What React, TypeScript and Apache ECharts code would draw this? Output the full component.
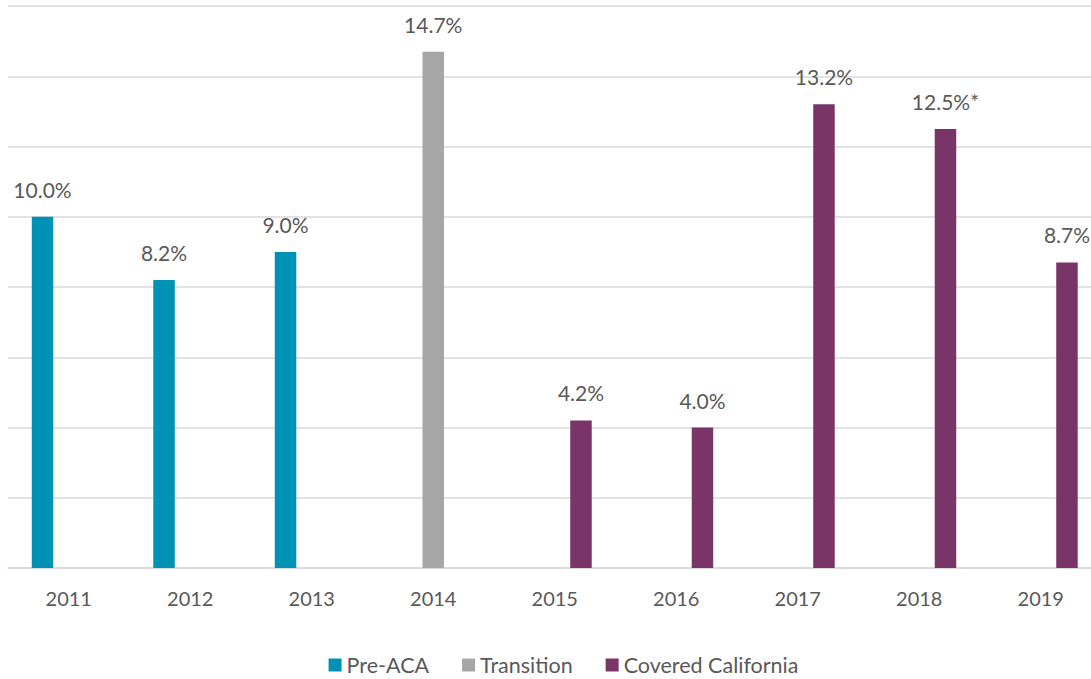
import React, { useEffect, useRef } from "react";
import * as echarts from "echarts";

const years = ["2011", "2012", "2013", "2014", "2015", "2016", "2017", "2018", "2019"];
const preAca = [10.0, 8.2, 9.0, "-", "-", "-", "-", "-", "-"];
const transition = ["-", "-", "-", 14.7, "-", "-", "-", "-", "-"];
const coveredCalifornia = ["-", "-", "-", "-", 4.2, 4.0, 13.2, 12.5, 8.7];
const footnoteYears = ["2018"];
const seriesNames = ["Pre-ACA", "Transition", "Covered California"];
const yTicks = { min: 0, max: 16, interval: 2 };

const FONT = "Lato, 'Open Sans', sans-serif";
const TEXT = "#595959";

export default function App() {
  const ref = useRef<HTMLDivElement>(null);
  useEffect(() => {
    if (!ref.current) return;
    const chart = echarts.init(ref.current, undefined, { renderer: "svg" });
    const label = {
      show: true,
      position: "top",
      distance: 17,
      color: TEXT,
      fontSize: 21,
      fontFamily: FONT,
      formatter: (p: any) =>
        Number(p.value).toFixed(1) + "%" + (footnoteYears.includes(p.name) ? "*" : ""),
    };
    const colors = ["#0092B4", "#A6A6A6", "#7A3568"];
    const datas = [preAca, transition, coveredCalifornia];
    chart.setOption({
      animation: false,
      color: colors,
      textStyle: { fontFamily: FONT },
      grid: { left: 8, right: 25.5, top: 6, bottom: 111, containLabel: false },
      legend: {
        data: seriesNames,
        left: "center",
        top: 649,
        icon: "rect",
        itemWidth: 13,
        itemHeight: 13,
        itemGap: 33,
        textStyle: { color: TEXT, fontSize: 21.5, fontFamily: FONT },
      },
      xAxis: {
        type: "category",
        data: years,
        axisLine: { lineStyle: { color: "#D9D9D9", width: 1.5 } },
        axisTick: { show: false },
        axisLabel: { color: TEXT, fontSize: 20, fontFamily: FONT, margin: 20 },
      },
      yAxis: {
        type: "value",
        min: yTicks.min,
        max: yTicks.max,
        interval: yTicks.interval,
        axisLabel: { show: false },
        axisLine: { show: false },
        axisTick: { show: false },
        splitLine: { lineStyle: { color: "#D9D9D9", width: 1.5 } },
      },
      series: seriesNames.map((name, i) => ({
        name,
        type: "bar",
        data: datas[i],
        barWidth: 21.5,
        barGap: "22%",
        label,
      })),
    });
    return () => chart.dispose();
  }, []);
  return (
    <div
      style={{
        position: "absolute",
        left: 0,
        top: 0,
        width: 1091,
        height: 679,
        overflow: "hidden",
        background: "#fff",
      }}
    >
      <div ref={ref} style={{ width: 1127, height: 679 }} />
    </div>
  );
}
